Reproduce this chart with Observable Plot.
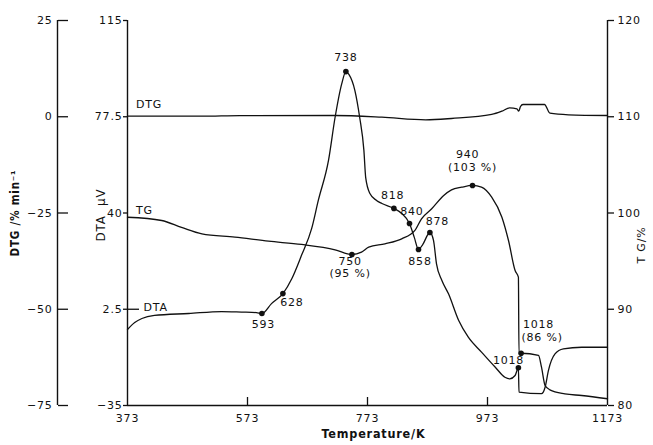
<!DOCTYPE html>
<html>
<head>
<meta charset="utf-8">
<script src="https://cdn.jsdelivr.net/npm/d3@7"></script>
<script src="https://cdn.jsdelivr.net/npm/@observablehq/plot@0.6"></script>
<style>
  html, body { margin: 0; padding: 0; background: #fff; }
  #chart svg { display: block; }
</style>
</head>
<body>
<div id="chart"></div>
<script>
// ---------- tick values ----------
const temperatureTicks = [373, 573, 773, 973, 1173];
const dtaTicks = [-35, 2.5, 40, 77.5, 115];
const dtgTicks = [-75, -50, -25, 0, 25];
const tgTicks = [80, 90, 100, 110, 120];

// ---------- DTA curve (µV) ----------
const dtaTemp  = [373, 385, 397, 418, 475, 530, 563, 588, 597, 613, 632, 647, 663, 680, 691, 708, 719, 730, 737, 742, 752, 760, 767, 770, 777, 788, 797, 817, 830, 843, 851, 858, 865, 877, 883, 888, 897, 908, 925, 941, 963, 986, 1002, 1010, 1019, 1024.5, 1025.5, 1063, 1069, 1074.5, 1085.5, 1099.5, 1130, 1173];
const dtaValue = [-5.4, -2.7, -1.1, 0.1, 0.85, 1.6, 1.4, 1.2, 0.85, 4.7, 8.6, 14.5, 23.5, 34.0, 44.9, 60.5, 77.3, 90.3, 95.1, 94.0, 87.7, 77.2, 64.4, 53.8, 47.6, 44.9, 43.7, 41.8, 39.8, 35.9, 30.5, 25.8, 27.7, 32.4, 29.3, 20.2, 13.7, 8.5, -1.9, -8.4, -14.2, -20.1, -24.0, -24.6, -23.3, -20.3, -29.8, -30.4, -27.9, -21.4, -14.9, -12.9, -12.3, -12.3];

// ---------- TG curve (%) ----------
const tgTemp  = [373, 430, 463, 497, 552, 608, 663, 719, 747, 763, 775, 802, 830, 852, 863, 880, 900, 913, 930, 948, 963, 980, 997, 1008, 1019, 1024.5, 1025.5, 1029, 1058, 1063, 1069, 1077, 1102, 1130, 1173];
const tgValue = [99.56, 99.22, 98.5, 97.83, 97.49, 97.07, 96.73, 96.18, 95.69, 95.93, 96.45, 96.80, 97.32, 98.19, 99.40, 100.44, 101.82, 102.41, 102.68, 102.86, 102.68, 101.64, 99.56, 97.14, 94.02, 93.33, 85.43, 85.43, 85.2, 83.98, 82.08, 81.63, 81.21, 81.04, 80.7];

// ---------- DTG curve (%/min) ----------
const dtgTemp  = [373, 497, 560, 718, 797, 870, 913, 980, 997, 1010, 1022, 1025, 1028, 1032, 1068, 1077, 1108, 1173];
const dtgValue = [0.15, 0.15, 0.3, 0.33, -0.11, -0.8, -0.45, 0.59, 1.45, 2.33, 2.07, 1.45, 2.67, 3.18, 3.18, 0.93, 0.51, 0.33];

// ---------- marked points ----------
const dtaDotTemp  = [597, 632, 737, 817, 843, 858, 877, 1024.5];
const dtaDotValue = [0.85, 8.6, 95.1, 41.8, 35.9, 25.8, 32.4, -20.3];
const tgDotTemp  = [747, 948, 1029];
const tgDotValue = [95.69, 102.86, 85.43];

// ---------- annotations (position in T / DTA units) ----------
const labelText  = ["738", "818", "840", "878", "858", "750", "(95 %)", "593", "628", "940", "(103 %)", "1018", "1018", "(86 %)", "DTG", "TG", "DTA"];
const labelTemp  = [737, 815, 847, 889.5, 860.5, 744, 744, 599.5, 647, 940, 948, 1008, 1058, 1064, 409, 401, 420];
const labelValue = [100.6, 46.8, 40.6, 36.7, 21.2, 21.1, 16.5, -3.4, 5.3, 62.8, 57.8, -17.5, -3.6, -8.4, 82.3, 41.0, 3.0];

// leader before the DTA label
const leaderTemp1 = [373];
const leaderTemp2 = [393];
const leaderValue = [2.5];

// ---------- secondary-scale conversions onto the DTA scale ----------
const tgToDta  = tg => -35 + (tg - 80) * 150 / 40;
const dtgToDta = d => -35 + (d + 75) * 150 / 100;
const fmt = d => (d < 0 ? "\u2212" + Math.abs(d) : String(d));

const dtaRows = dtaTemp.map((t, i) => ({t, v: dtaValue[i]}));
const tgRows  = tgTemp.map((t, i) => ({t, v: tgToDta(tgValue[i])}));
const dtgRows = dtgTemp.map((t, i) => ({t, v: dtgToDta(dtgValue[i])}));
const dotRows = dtaDotTemp.map((t, i) => ({t, v: dtaDotValue[i]}))
  .concat(tgDotTemp.map((t, i) => ({t, v: tgToDta(tgDotValue[i])})));
const labelRows = labelText.map((s, i) => ({s, t: labelTemp[i], v: labelValue[i]}));
const leaderRows = leaderValue.map((v, i) => ({v, t1: leaderTemp1[i], t2: leaderTemp2[i]}));

const chart = Plot.plot({
  width: 653,
  height: 445,
  marginLeft: 127,
  marginRight: 46,
  marginTop: 20,
  marginBottom: 40,
  x: {domain: [373, 1173], axis: null},
  y: {domain: [-35, 115], axis: null},
  style: {
    fontFamily: "'DejaVu Sans', sans-serif",
    fontSize: "11px",
    letterSpacing: "0.8px",
    color: "#111",
    background: "#fff",
    overflow: "visible"
  },
  marks: [
    // frame lines
    Plot.ruleX([373], {stroke: "#111", strokeWidth: 1.4}),
    Plot.ruleX([1173], {stroke: "#111", strokeWidth: 1.4}),
    Plot.ruleY([-35], {stroke: "#111", strokeWidth: 1.4}),
    // DTG axis line (offset to the far left)
    Plot.ruleX([373], {dx: -70, stroke: "#111", strokeWidth: 1.4}),

    // x axis: inward ticks + labels
    Plot.axisX(temperatureTicks.slice(1, -1), {anchor: "top", dy: 385, tickSize: 9, fill: "none", label: null, stroke: "#111", strokeWidth: 1.3}),
    Plot.axisX(temperatureTicks, {anchor: "bottom", tickSize: 0, tickPadding: 9, tickFormat: fmt, label: null, fill: "#111"}),

    // DTA axis (left)
    Plot.axisY(dtaTicks, {anchor: "left", tickSize: 4, tickPadding: 1, tickFormat: fmt, label: null, stroke: "#111", strokeWidth: 1.3, fill: "#111"}),

    // DTG axis (far left): ticks pointing right, labels left
    Plot.axisY(dtgTicks, {y: dtgToDta, anchor: "right", dx: -550, tickSize: 10, fill: "none", label: null, stroke: "#111", strokeWidth: 1.3}),
    Plot.axisY(dtgTicks, {y: dtgToDta, anchor: "left", dx: -70, tickSize: 0, tickPadding: 5, tickFormat: fmt, label: null, fill: "#111"}),

    // TG axis (right)
    Plot.axisY(tgTicks, {y: tgToDta, anchor: "right", tickSize: 6, tickPadding: 4, tickFormat: fmt, label: null, stroke: "#111", strokeWidth: 1.3, fill: "#111"}),

    // axis titles
    Plot.text(["DTG /% min\u207B\u00B9"], {text: d => d, frameAnchor: "left", textAnchor: "middle", rotate: -90, dx: -112, dy: 0, fontWeight: "bold", fontSize: 11.5, fill: "#111", fontFamily: "'DejaVu Sans Condensed', 'DejaVu Sans', sans-serif"}),
    Plot.text(["DTA  \u03BCV"], {text: d => d, frameAnchor: "left", textAnchor: "middle", rotate: -90, dx: -26, dy: 2, fontSize: 12, fill: "#111"}),
    Plot.text(["T G/%"], {text: d => d, frameAnchor: "right", textAnchor: "middle", rotate: -90, dx: 34, dy: 32, fontSize: 11, fill: "#111"}),
    Plot.text(["Temperature/K"], {text: d => d, frameAnchor: "bottom", textAnchor: "middle", dx: 6, dy: 32, fontWeight: "bold", fontSize: 12.5, fill: "#111", fontFamily: "'DejaVu Sans Condensed', 'DejaVu Sans', sans-serif"}),

    // curves
    Plot.line(dtgRows, {x: "t", y: "v", curve: "monotone-x", stroke: "#111", strokeWidth: 1.3}),
    Plot.line(tgRows, {x: "t", y: "v", curve: "monotone-x", stroke: "#111", strokeWidth: 1.3}),
    Plot.line(dtaRows, {x: "t", y: "v", curve: "monotone-x", stroke: "#111", strokeWidth: 1.3}),

    // leader
    Plot.ruleY(leaderRows, {y: "v", x1: "t1", x2: "t2", stroke: "#111", strokeWidth: 1.3}),

    // marked points
    Plot.dot(dotRows, {x: "t", y: "v", r: 2.8, fill: "#111", stroke: null}),

    // annotations
    Plot.text(labelRows, {x: "t", y: "v", text: "s", fill: "#111", fontSize: 11})
  ]
});

document.getElementById("chart").appendChild(chart);
</script>
</body>
</html>
